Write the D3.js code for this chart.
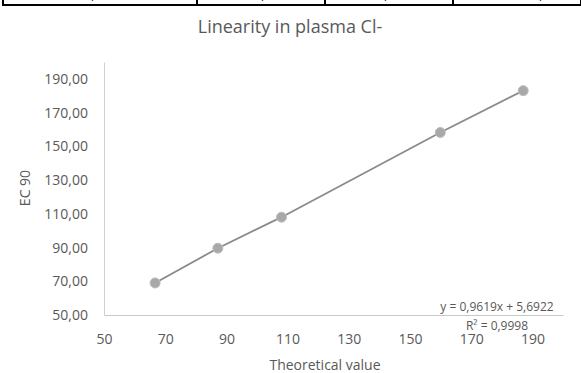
<!DOCTYPE html>
<html>
<head>
<meta charset="utf-8">
<script src="https://cdn.jsdelivr.net/npm/d3@7"></script>
<style>
  body { margin: 0; background: #fff; }
  svg { display: block; font-family: "Open Sans", "Noto Sans", sans-serif; }
</style>
</head>
<body>
<svg width="581" height="373"></svg>
<script>
// values
const theoretical = [66.7, 87.2, 108.0, 159.9, 187.0];
const ec90 = [69.0, 89.6, 108.0, 158.2, 183.0];
const xTicks = [50, 70, 90, 110, 130, 150, 170, 190];
const yTicks = [50, 70, 90, 110, 130, 150, 170, 190];
const tableCols = [3, 197, 325, 453, 581];
const tableCommas = [97, 267, 390, 545];
const equation = "y = 0,9619x + 5,6922";
const rSquared = "R² = 0,9998";

const svg = d3.select("svg");
const grey = "#595959";

// cut off table row at the very top
const table = svg.append("g");
table.append("line")
    .attr("x1", 2).attr("x2", 581).attr("y1", 5).attr("y2", 5)
    .attr("stroke", "#000").attr("stroke-width", 2);
table.selectAll(".col").data(tableCols).enter().append("line")
    .attr("x1", d => d).attr("x2", d => d).attr("y1", 0).attr("y2", 6)
    .attr("stroke", "#000").attr("stroke-width", 2);
table.selectAll("text").data(tableCommas).enter().append("text")
    .attr("x", d => d).attr("y", -1)
    .attr("text-anchor", "middle")
    .attr("font-size", 14).attr("fill", "#000")
    .text("0,00");

const x = d3.scaleLinear().domain([50, 200]).range([104, 563]);
const y = d3.scaleLinear().domain([50, 200]).range([315, 62]);

svg.append("text")
    .attr("x", 290).attr("y", 33)
    .attr("text-anchor", "middle")
    .attr("font-size", 18).attr("fill", grey)
    .text("Linearity in plasma Cl-");

const fmt = d => d3.format(".2f")(d).replace(".", ",");

const yAxis = svg.append("g")
    .attr("transform", `translate(${x(50)},0)`)
    .call(d3.axisLeft(y).tickValues(yTicks).tickFormat(fmt).tickSize(0).tickPadding(16));
yAxis.select(".domain").attr("stroke", "#d0d0d0");
yAxis.selectAll("text").attr("font-size", 14).attr("fill", grey)
    .attr("font-family", "'Open Sans', sans-serif");

const xAxis = svg.append("g")
    .attr("transform", `translate(0,${y(50)})`)
    .call(d3.axisBottom(x).tickValues(xTicks).tickSize(0).tickPadding(19));
xAxis.select(".domain").attr("stroke", "#c8c8c8");
xAxis.selectAll("text").attr("font-size", 14).attr("fill", grey)
    .attr("font-family", "'Open Sans', sans-serif");

svg.append("text")
    .attr("x", 325).attr("y", 370)
    .attr("text-anchor", "middle")
    .attr("font-size", 14).attr("fill", grey)
    .text("Theoretical value");

svg.append("text")
    .attr("transform", "translate(30,188) rotate(-90)")
    .attr("text-anchor", "middle")
    .attr("font-size", 14).attr("fill", grey)
    .text("EC 90");

const pts = theoretical.map((t, i) => [t, ec90[i]]);

svg.append("path")
    .datum(pts)
    .attr("fill", "none")
    .attr("stroke", "#8a8a8a")
    .attr("stroke-width", 1.8)
    .attr("d", d3.line().x(d => x(d[0])).y(d => y(d[1])));

svg.selectAll(".pt").data(pts).enter().append("circle")
    .attr("cx", d => x(d[0])).attr("cy", d => y(d[1]))
    .attr("r", 5)
    .attr("fill", "#a8a8a8")
    .attr("stroke", "#bdbdbd")
    .attr("stroke-width", 1);

svg.append("text")
    .attr("x", 497).attr("y", 311)
    .attr("text-anchor", "middle")
    .attr("font-size", 12).attr("fill", grey)
    .text(equation);
svg.append("text")
    .attr("x", 497).attr("y", 330)
    .attr("text-anchor", "middle")
    .attr("font-size", 12).attr("fill", grey)
    .text(rSquared);
</script>
</body>
</html>
